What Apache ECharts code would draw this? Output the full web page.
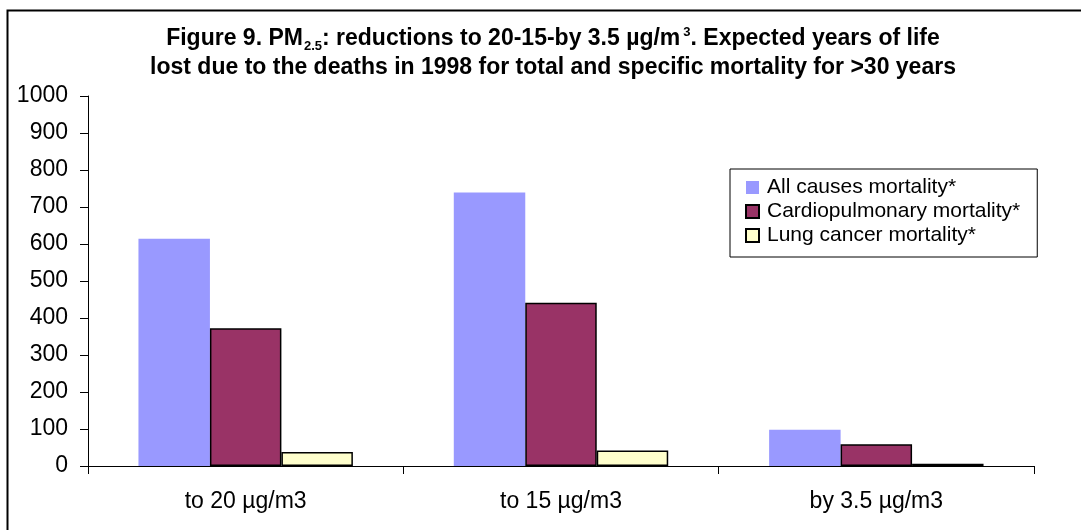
<!DOCTYPE html>
<html>
<head>
<meta charset="utf-8">
<script src="https://cdn.jsdelivr.net/npm/echarts@6/dist/echarts.min.js"></script>
<style>
  html, body { margin: 0; padding: 0; background: #fff; }
  #chart { width: 1081px; height: 530px; }
</style>
</head>
<body>
<div id="chart"></div>
<script>
// categories and values
const categories = ["to 20 µg/m3", "to 15 µg/m3", "by 3.5 µg/m3"];
const seriesNames = ["All causes mortality*", "Cardiopulmonary mortality*", "Lung cancer mortality*"];
const allCauses = [614, 739, 98];
const cardiopulmonary = [372, 441, 59];
const lungCancer = [38, 42, 6];

const font = "Liberation Sans, Arial, sans-serif";

const chart = echarts.init(document.getElementById("chart"));
chart.setOption({
  animation: false,
  backgroundColor: "#fff",
  textStyle: { fontFamily: font, color: "#000" },
  title: {
    left: 548,
    top: 19,
    textAlign: "center",
    text:
      "{b|Figure 9. PM}{sub|2.5}{b|: reductions to 20-15-by 3.5 µg/m}{sup|3}{b|. Expected years of life}\n" +
      "{b|lost due to the deaths in 1998 for total and specific mortality for >30 years}",
    textStyle: {
      rich: {
        b: { fontFamily: font, fontSize: 23, fontWeight: "bold", color: "#000", lineHeight: 29 },
        sub: { fontFamily: font, fontSize: 13, fontWeight: "bold", color: "#000", lineHeight: 29, verticalAlign: "bottom", padding: [0, 0, 0, 1] },
        sup: { fontFamily: font, fontSize: 13, fontWeight: "bold", color: "#000", lineHeight: 29, verticalAlign: "top", padding: [2, 0, 0, 3] }
      }
    }
  },
  graphic: [
    {
      type: "polyline",
      shape: { points: [[7.5, 540], [7.5, 10.5], [1090, 10.5]] },
      style: { stroke: "#000", lineWidth: 2, fill: null },
      silent: true
    }
  ],
  legend: {
    orient: "vertical",
    left: 730,
    top: 169,
    padding: [8, 17, 11, 15],
    itemGap: 3,
    itemWidth: 13,
    itemHeight: 13,
    borderColor: "#000",
    borderWidth: 1,
    backgroundColor: "#fff",
    icon: "rect",
    textStyle: { fontFamily: font, fontSize: 21, color: "#000", padding: [0, 0, 0, 3] },
    data: seriesNames
  },
  grid: { left: 88, right: 47, top: 96, bottom: 64 },
  xAxis: {
    type: "category",
    data: categories,
    axisLine: { lineStyle: { color: "#000", width: 1 } },
    axisTick: { show: true, length: 8, lineStyle: { color: "#000" } },
    axisLabel: { fontFamily: font, fontSize: 23, color: "#000", margin: 24 },
    splitLine: { show: false }
  },
  yAxis: {
    type: "value",
    min: 0,
    max: 1000,
    interval: 100,
    axisLine: { show: true, lineStyle: { color: "#000", width: 1 } },
    axisTick: { show: true, length: 8, lineStyle: { color: "#000" } },
    axisLabel: { fontFamily: font, fontSize: 23, color: "#000", margin: 20, formatter: (v) => String(v) },
    splitLine: { show: false }
  },
  series: [
    {
      name: seriesNames[0],
      type: "bar",
      data: allCauses,
      barGap: "0%",
      barCategoryGap: "32%",
      itemStyle: { color: "#9999FF" }
    },
    {
      name: seriesNames[1],
      type: "bar",
      data: cardiopulmonary,
      itemStyle: { color: "#993366", borderColor: "#000", borderWidth: 1.5 }
    },
    {
      name: seriesNames[2],
      type: "bar",
      data: lungCancer,
      itemStyle: { color: "#FFFFCC", borderColor: "#000", borderWidth: 1.5 }
    }
  ]
});
</script>
</body>
</html>
